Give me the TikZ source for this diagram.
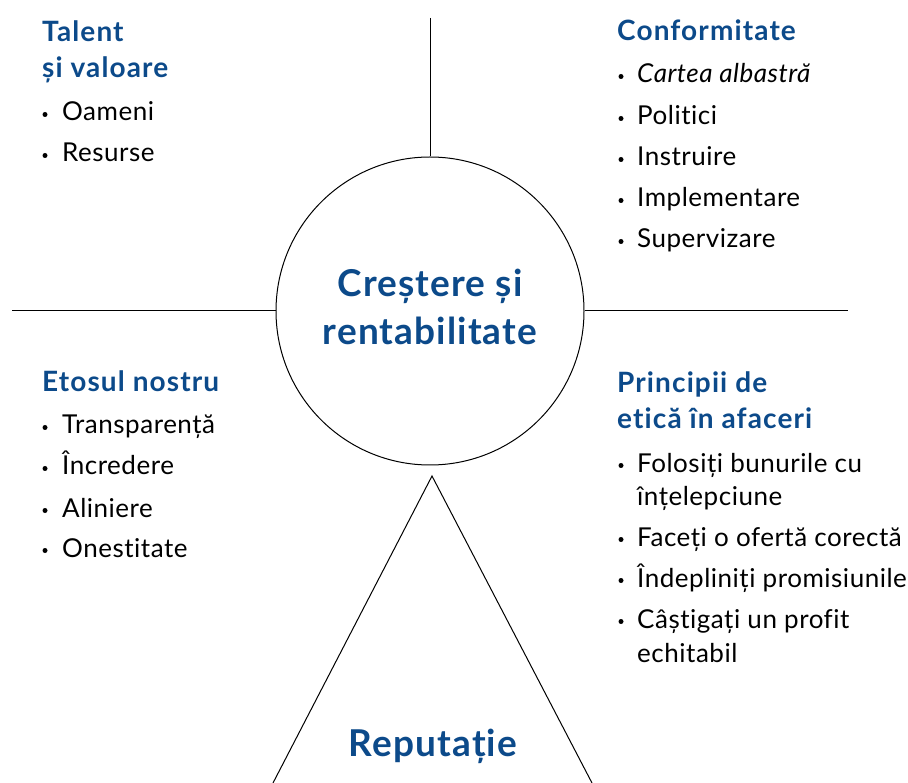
\documentclass[tikz,border=0pt]{standalone}
\usepackage{fontspec}
\setmainfont{Lato}[Ligatures=NoCommon]
\newfontfamily\bodyfont{Lato}[LetterSpace=2,Ligatures=NoCommon]
\newfontfamily\headfont{Lato}[LetterSpace=4,Ligatures=NoCommon]
\newfontfamily\bigfont{Lato}[LetterSpace=3,Ligatures=NoCommon]
\definecolor{hblue}{RGB}{12,74,138}
\tikzset{
  line/.style={draw=black, line width=1pt},
  head/.style={anchor=base west, inner sep=0pt, text=hblue, font=\headfont\fontsize{28}{32}\selectfont\bfseries},
  big/.style={anchor=base, inner sep=0pt, text=hblue, font=\bigfont\fontsize{37}{44}\selectfont\bfseries},
  item/.style={anchor=base west, inner sep=0pt, font=\bodyfont\fontsize{26}{30}\selectfont},
  dotb/.style={fill=black},
}
\newcommand{\bul}[2]{\fill[dotb] (#1,#2-6.5) circle (2.5);}
\begin{document}
\begin{tikzpicture}[x=1pt,y=-1pt]
\useasboundingbox (0,0) rectangle (908,783);
% circle and lines
\node[circle, line, minimum size=308pt, inner sep=0pt] (c) at (430,311) {};
\coordinate (vtop) at (430,18);
\coordinate (hl) at (12,311);
\coordinate (hr) at (848,311);
\draw[line] (vtop) -- (c.north);
\draw[line] (hl) -- (c.west);
\draw[line] (c.east) -- (hr);
% triangle
\coordinate (apex) at (432,476);
\coordinate (bl) at (273,783);
\coordinate (br) at (592,783);
\draw[line] (bl) -- (apex) -- (br);
% center text
\node[big] (c1) at (430,297) {Creștere și};
\node[big] (c2) at (430,345) {rentabilitate};
\node[big] (rep) at (433,756) {Reputație};
% top-left
\node[head] (tl1) at (42,42) {Talent};
\node[head] (tl2) at (42,78) {și valoare};
\bul{45}{121}\node[item] (tla) at (62,121) {Oameni};
\bul{45}{162}\node[item] (tlb) at (62,162) {Resurse};
% top-right
\node[head] (tr1) at (617,41) {Conformitate};
\bul{621}{83}\node[item] (tra) at (637,83) {\itshape Cartea albastră};
\bul{621}{125}\node[item] (trb) at (637,125) {Politici};
\bul{621}{166}\node[item] (trc) at (637,166) {Instruire};
\bul{621}{207}\node[item] (trd) at (637,207) {Implementare};
\bul{621}{248}\node[item] (tre) at (637,248) {Supervizare};
% bottom-left
\node[head] (bl1) at (42,392) {Etosul nostru};
\bul{45}{434}\node[item] (bla) at (62,434) {Transparență};
\bul{45}{475}\node[item] (blb) at (62,475) {Încredere};
\bul{45}{517}\node[item] (blc) at (62,517) {Aliniere};
\bul{45}{557}\node[item] (bld) at (62,557) {Onestitate};
% bottom-right
\node[head] (br1) at (617,393) {Principii de};
\node[head] (br2) at (617,429) {etică în afaceri};
\bul{621}{472}\node[item] (bra) at (637,472) {Folosiți bunurile cu};
\node[item] (bra2) at (637,505) {înțelepciune};
\bul{621}{546}\node[item] (brb) at (637,546) {Faceți o ofertă corectă};
\bul{621}{587}\node[item] (brc) at (637,587) {Îndepliniți promisiunile};
\bul{621}{628}\node[item] (brd) at (637,628) {Câștigați un profit};
\node[item] (brd2) at (637,662) {echitabil};
\end{tikzpicture}
\end{document}
